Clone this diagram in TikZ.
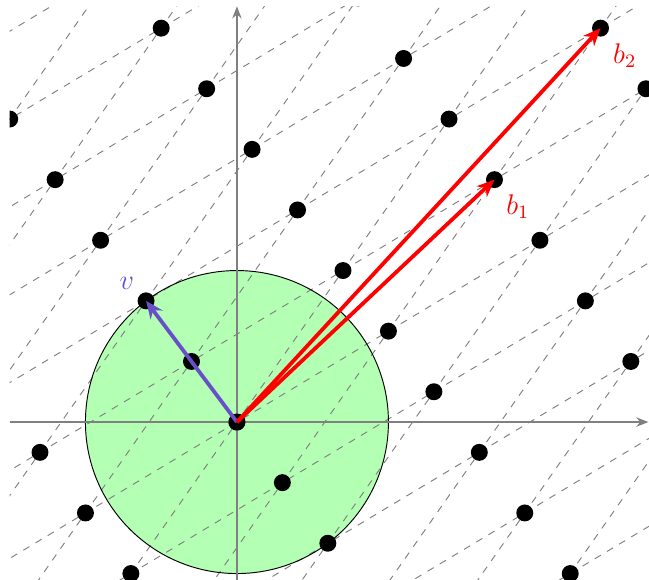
\documentclass[tikz,border=0pt]{standalone}
\usepackage{amsmath,amssymb}
\usepackage{xcolor}
\usepackage{tikz}
\usetikzlibrary{calc, arrows.meta}
\definecolor{vecviolet}{RGB}{104,80,200}
\definecolor{discgreen}{RGB}{179,255,179}

\begin{document}
\begin{tikzpicture}[x=0.45cm, y=0.45cm,
  >={Stealth[length=2.6mm, width=2.2mm]},
  every node/.style={font=\large},
  axis/.style={draw=gray, semithick, -{Stealth[length=1.8mm, width=1.4mm]}},
  gridline/.style={draw=gray, thin, dashed},
  latpt/.style={fill=black},
  basisvec/.style={draw=red, ultra thick, ->},
  shortvec/.style={draw=vecviolet, ultra thick, ->}
]
\useasboundingbox (-7.82,-5.18) rectangle (13.6,13.93);
\coordinate (O) at (0,0);
\coordinate (v) at (-3,4);
\coordinate (b1) at (8.5,8);
\coordinate (b2) at (12,13);
% disc of radius |v|
\fill[discgreen] (O) circle (5);
\begin{scope}
  \clip (-7.5,-5.25) rectangle (13.6,13.73);
  % lattice lines in the two directions (5,3) and (3.5,5)
  \foreach \k in {-16,...,16}{
    \draw[gridline] ($(\k*-1.5,\k*2)+(-40,-24)$) -- ++(80,48);
    \draw[gridline] ($(\k*-1.5,\k*2)+(-14,-20)$) -- ++(28,40);
  }
  % lattice points
  \foreach \i in {-3,...,4}{
    \foreach \j in {-12,...,12}{
      \fill[latpt] ({6.5*\i-1.5*\j},{\i+2*\j}) circle (0.28);
    }
  }
\end{scope}
\draw[black] (O) circle (5);
\draw[axis] (-7.5,0) -- (13.58,0);
\draw[axis] (0,-5.25) -- (0,13.72);
\fill[latpt] (O) circle (0.28);
% vectors
\draw[shortvec] (O) -- (v);
\draw[basisvec] (O) -- (b1);
\draw[basisvec] (O) -- (b2);
\node[text=vecviolet] (vlab) at (-3.63,4.59) {$v$};
\node[text=red] (b1lab) at (9.27,7.1) {$b_1$};
\node[text=red] (b2lab) at (12.8,12.1) {$b_2$};
\end{tikzpicture}
\end{document}
